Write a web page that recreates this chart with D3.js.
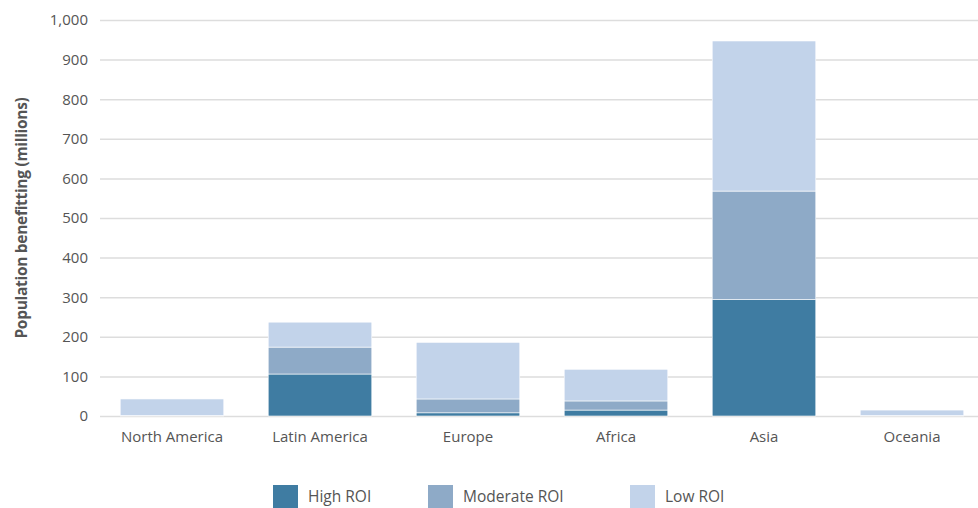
<!DOCTYPE html>
<meta charset="utf-8">
<script src="https://d3js.org/d3.v7.min.js"></script>
<style type="text/css">
body { margin: 0; background: #fff; }
text { font-family: "Open Sans", sans-serif; fill: #555; }
.axis line { stroke: #ddd; stroke-width: 1.5px; }
.axis path { display: none; }
.axis text { font-size: 15px; }
.title { font-size: 15.5px; font-weight: bold; letter-spacing: -0.3px; }
.legend text { font-size: 15.5px; }
</style>
<body></body>
<script>

var regions = ["North America", "Latin America", "Europe", "Africa", "Asia", "Oceania"];
var seriesNames = ["High ROI", "Moderate ROI", "Low ROI"];
var highROI = [0, 106, 8, 15, 294, 0];
var moderateROI = [1, 68, 35, 23, 274, 1];
var lowROI = [42, 63, 143, 80, 379, 14];
var yTicks = [0, 100, 200, 300, 400, 500, 600, 700, 800, 900, 1000];
var colors = ["#3f7ca2", "#8eaac7", "#c2d3ea"];

var data = regions.map(function(r, i) {
  return {region: r, "High ROI": highROI[i], "Moderate ROI": moderateROI[i], "Low ROI": lowROI[i]};
});

var width = 978, height = 508;

var svg = d3.select("body").append("svg")
    .attr("width", width)
    .attr("height", height);

var xScale = d3.scaleBand()
  .domain(regions)
  .range([98, 986])
  .paddingInner(0.3)
  .paddingOuter(0.15);

var yScale = d3.scaleLinear()
  .domain([0, 1000])
  .range([416, 20]);

// gridlines + y labels
var yAxis = d3.axisLeft(yScale)
  .tickValues(yTicks)
  .tickSize(-878)
  .tickPadding(12)
  .tickFormat(d3.format(","));

svg.append("g")
  .attr("class", "y axis")
  .attr("transform", "translate(100,0)")
  .call(yAxis);

var xAxis = d3.axisBottom(xScale).tickSize(0).tickPadding(12);

var stack = d3.stack().keys(seriesNames)(data);

svg.selectAll(".layer")
  .data(stack).enter().append("g")
  .attr("class", "layer")
  .style("fill", function(d, i) { return colors[i]; })
  .selectAll("rect")
  .data(function(d) { return d; })
  .enter().append("rect")
  .attr("x", function(d) { return xScale(d.data.region); })
  .attr("width", xScale.bandwidth())
  .attr("y", function(d) { return yScale(d[1]); })
  .attr("height", function(d) { return yScale(d[0]) - yScale(d[1]); })
  .style("stroke", "#fff")
  .style("stroke-width", 0.6);

svg.append("g")
  .attr("class", "x axis")
  .attr("transform", "translate(0,416)")
  .call(xAxis)
  .selectAll("text")
  .attr("dy", "0.95em");

svg.append("text")
  .attr("class", "title")
  .attr("transform", "translate(27,218) rotate(-90)")
  .attr("text-anchor", "middle")
  .text("Population benefitting (millions)");

// legend
var legendX = [273, 428, 630];
var legend = svg.selectAll(".legend")
  .data(seriesNames).enter().append("g")
  .attr("class", "legend")
  .attr("transform", function(d, i) { return "translate(" + legendX[i] + ",485)"; });

legend.append("rect")
  .attr("width", 25)
  .attr("height", 23)
  .style("fill", function(d, i) { return colors[i]; });

legend.append("text")
  .attr("x", 35)
  .attr("y", 17)
  .text(function(d) { return d; });

</script>
